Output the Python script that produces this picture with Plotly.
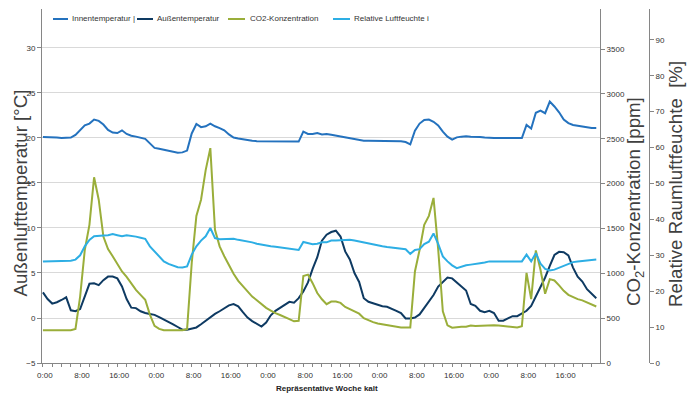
import plotly.graph_objects as go

# Hourly values for a representative cold week (Mon-Fri, 120 hours)
hours = list(range(120))
time_labels = [f"{h % 24}:00" for h in hours]

innen = [
    20.1, 20.1, 20.1, 20.05, 20.0, 20.0, 20.05, 20.35, 20.9, 21.4,
    21.6, 22.05, 21.9, 21.5, 20.9, 20.6, 20.55, 20.85, 20.45, 20.25,
    20.15, 20.05, 19.9, 19.4, 18.9, 18.8, 18.7, 18.6, 18.45, 18.35,
    18.4, 18.6, 20.5, 21.55, 21.2, 21.3, 21.6, 21.3, 21.1, 20.85,
    20.4, 20.05, 19.95, 19.85, 19.75, 19.7, 19.65, 19.65, 19.63, 19.63,
    19.63, 19.63, 19.63, 19.63, 19.63, 19.6, 20.7, 20.45, 20.45, 20.55,
    20.4, 20.45, 20.35, 20.25, 20.15, 20.05, 19.95, 19.9, 19.8, 19.7,
    19.7, 19.7, 19.7, 19.7, 19.7, 19.7, 19.68, 19.63, 19.55, 19.3,
    20.8, 21.6, 22.0, 22.05, 21.8, 21.4, 20.7, 20.15, 19.82, 20.07,
    20.15, 20.2, 20.15, 20.15, 20.1, 20.05, 20.0, 20.0, 20.0, 20.0,
    20.0, 20.0, 20.0, 20.0, 21.45, 21.05, 22.8, 23.05, 22.75, 24.05,
    23.5, 22.85, 22.05, 21.65, 21.45, 21.35, 21.25, 21.2, 21.1, 21.1,
]

aussen = [
    2.85, 2.1, 1.6, 1.75, 2.0, 2.3, 0.85, 0.75, 1.0, 2.5,
    3.8, 3.85, 3.65, 4.2, 4.6, 4.6, 4.4, 3.5, 2.1, 1.15,
    1.1, 0.75, 0.55, 0.45, 0.35, 0.1, -0.15, -0.45, -0.7, -1.0,
    -1.3, -1.3, -1.2, -1.05, -0.7, -0.3, 0.05, 0.45, 0.75, 1.1,
    1.4, 1.55, 1.3, 0.65, 0.05, -0.35, -0.65, -0.95, -0.5, 0.3,
    0.8, 1.15, 1.55, 1.8, 1.7, 2.2, 2.95, 3.95, 5.45, 6.75,
    8.6, 9.25, 9.55, 9.7, 9.05, 7.4, 6.5, 5.0, 4.0, 2.2,
    1.8, 1.65, 1.45, 1.3, 1.25, 1.05, 0.8, 0.55, -0.05, -0.05,
    0.05, 0.4, 1.15, 1.9, 2.55, 3.5, 4.05, 4.5, 4.4, 3.95,
    3.6, 3.05, 1.55, 1.35, 0.8, 0.65, 0.8, 0.55, -0.3, -0.3,
    -0.05, 0.2, 0.2, 0.5, 0.8, 1.35, 2.4, 3.35, 4.5, 5.8,
    7.0, 7.35, 7.3, 6.95, 5.6, 4.6, 4.05, 3.2, 2.65, 2.2,
]

co2 = [
    365, 365, 365, 365, 365, 365, 365, 380, 740, 1260,
    1540, 2070, 1820, 1410, 1270, 1190, 1105, 1020, 960, 880,
    815, 760, 705, 540, 415, 380, 365, 365, 365, 365,
    365, 378, 1115, 1640, 1820, 2150, 2395, 1485, 1300, 1190,
    1085, 995, 915, 855, 790, 740, 700, 655, 615, 585,
    555, 535, 515, 490, 465, 470, 970, 985, 890, 780,
    710, 655, 685, 685, 670, 625, 600, 575, 550, 500,
    475, 455, 440, 430, 420, 412, 405, 397, 397, 397,
    1020, 1260, 1540, 1640, 1840, 1270, 575, 420, 393, 400,
    405, 405, 418, 412, 415, 422, 422, 422, 418, 412,
    405, 400, 397, 410, 1005, 712, 1255, 1040, 772, 935,
    920, 865, 805, 760, 735, 712, 698, 675, 653, 630,
]

feuchte = [
    28.3, 28.3, 28.3, 28.3, 28.4, 28.5, 28.5, 28.8, 30.0, 32.5,
    34.3, 35.3, 35.5, 35.5, 35.6, 35.9, 35.6, 35.3, 35.6, 35.5,
    35.2, 34.9, 34.6, 32.5, 31.1, 29.8, 28.3, 27.6, 27.1, 26.7,
    26.6, 26.9, 30.2, 32.5, 34.1, 35.3, 37.6, 34.8, 34.5, 34.5,
    34.6, 34.6, 34.3, 34.1, 33.8, 33.6, 33.2, 32.9, 32.7, 32.5,
    32.4, 32.2, 31.9, 31.8, 31.6, 31.5, 33.7, 33.4, 33.1, 33.2,
    33.6, 33.6, 34.1, 34.1, 34.2, 34.3, 34.3, 34.1, 33.8, 33.7,
    33.4, 33.0, 32.7, 32.5, 32.3, 32.2, 32.1, 32.0, 31.7, 30.4,
    31.5, 31.7, 33.1, 33.8, 36.1, 33.2, 29.7, 28.3, 27.2, 26.4,
    26.9, 27.2, 27.4, 27.7, 27.8, 28.0, 28.3, 28.3, 28.3, 28.3,
    28.3, 28.3, 28.3, 28.3, 30.2, 28.3, 30.6, 27.7, 26.2, 25.8,
    26.0, 26.5, 27.1, 27.7, 28.1, 28.3, 28.4, 28.5, 28.7, 28.8,
]

series_names = ["Innentemperatur", "Außentemperatur", "CO2-Konzentration", "Relative Luftfeuchte"]
legend_texts = ["Innentemperatur |", "Außentemperatur", "CO2-Konzentration", "Relative Luftfeuchte i"]
colors = ["#2472BE", "#0E3A62", "#9AAE3A", "#2DAEE4"]

temp_ticks = [-5, 0, 5, 10, 15, 20, 25, 30]
co2_ticks = [0, 500, 1000, 1500, 2000, 2500, 3000, 3500]
rh_ticks = [0, 10, 20, 30, 40, 50, 60, 70, 80, 90]

FONT = "Liberation Sans, Arial, sans-serif"
AXIS_GREY = "#868686"
TEXT = "#333333"
TITLE = "#404040"

W, H = 699, 396
ML, MR, MT, MB = 42, 40, 9, 33
PW = W - ML - MR          # width of the plotting region
PH = H - MT - MB          # height of the plotting region
X_END = 600               # right edge of the data area


def px(x):
    return (x - ML) / PW


def py(y):
    return (H - MB - y) / PH


fig = go.Figure()
for vals, name, col, ax in zip([innen, aussen, co2, feuchte], series_names, colors,
                               ["y", "y", "y2", "y3"]):
    fig.add_trace(go.Scatter(
        x=hours, y=vals, mode="lines", name=name, yaxis=ax,
        line=dict(color=col, width=2), showlegend=False,
    ))

# legend row drawn inside the plot, Excel style
legend_items = [(53, 68, 70), (137, 153, 155), (228, 245, 248), (333, 350, 352)]
shapes = []
annotations = []
for (x0, x1, xt), txt, col in zip(legend_items, legend_texts, colors):
    shapes.append(dict(type="line", xref="paper", yref="paper",
                       x0=px(x0), x1=px(x1), y0=py(19), y1=py(19),
                       line=dict(color=col, width=2)))
    annotations.append(dict(text=txt, xref="paper", yref="paper", x=px(xt), y=py(19),
                            xanchor="left", yanchor="middle", showarrow=False,
                            font=dict(family=FONT, size=8, color=TEXT)))

# axis titles
annotations += [
    dict(text="Außenlufttemperatur [°C]", xref="paper", yref="paper",
         x=px(19.5), y=py(193), textangle=-90, showarrow=False,
         xanchor="center", yanchor="middle",
         font=dict(family=FONT, size=18.7, color=TITLE)),
    dict(text="CO<sub>2</sub>-Konzentration [ppm]", xref="paper", yref="paper",
         x=px(635), y=py(202), textangle=-90, showarrow=False,
         xanchor="center", yanchor="middle",
         font=dict(family=FONT, size=18.7, color=TITLE)),
    dict(text="Relative Raumluftfeuchte  [%]", xref="paper", yref="paper",
         x=px(675), y=py(184), textangle=-90, showarrow=False,
         xanchor="center", yanchor="middle",
         font=dict(family=FONT, size=18.7, color=TITLE)),
    dict(text="<b>Repräsentative Woche kalt</b>", xref="paper", yref="paper",
         x=px(327), y=py(388), showarrow=False, xanchor="center", yanchor="middle",
         font=dict(family=FONT, size=8, color="#222222")),
]

fig.update_layout(
    width=W, height=H,
    margin=dict(l=ML, r=MR, t=MT, b=MB, pad=0),
    paper_bgcolor="white", plot_bgcolor="white",
    font=dict(family=FONT, size=8, color=TEXT),
    showlegend=False,
    shapes=shapes,
    annotations=annotations,
    xaxis=dict(
        domain=[0, (X_END - ML) / PW],
        range=[-0.2, 119.8],
        tickmode="array",
        tickvals=[h + 0.4 for h in hours[::8]],
        ticktext=time_labels[::8],
        ticks="", showgrid=False, zeroline=False,
        showline=True, linecolor=AXIS_GREY, linewidth=1,
        ticklabelstandoff=4,
        tickfont=dict(family=FONT, size=8, color=TEXT),
        minor=dict(tickmode="array", tickvals=hours[::2], ticks="outside",
                   ticklen=3, tickcolor=AXIS_GREY, showgrid=False),
    ),
    yaxis=dict(
        range=[-5, 34.33], tickmode="array", tickvals=temp_ticks,
        ticks="outside", ticklen=4, tickcolor=AXIS_GREY,
        showline=True, linecolor=AXIS_GREY, linewidth=1,
        showgrid=True, gridcolor="#D9D9D9", gridwidth=1, zeroline=False,
        tickfont=dict(family=FONT, size=8, color=TEXT),
    ),
    yaxis2=dict(
        overlaying="y", side="right", anchor="x",
        range=[0, 3946], tickmode="array", tickvals=co2_ticks,
        ticks="outside", ticklen=4, tickcolor=AXIS_GREY,
        showline=True, linecolor=AXIS_GREY, linewidth=1,
        showgrid=False, zeroline=False,
        tickfont=dict(family=FONT, size=8, color=TEXT),
    ),
    yaxis3=dict(
        overlaying="y", side="right", anchor="free", position=px(649),
        range=[0, 98.6], tickmode="array", tickvals=rh_ticks,
        ticks="outside", ticklen=4, tickcolor=AXIS_GREY,
        showline=True, linecolor=AXIS_GREY, linewidth=1,
        showgrid=False, zeroline=False,
        tickfont=dict(family=FONT, size=8, color=TEXT),
    ),
)

fig.write_html("out.html")
